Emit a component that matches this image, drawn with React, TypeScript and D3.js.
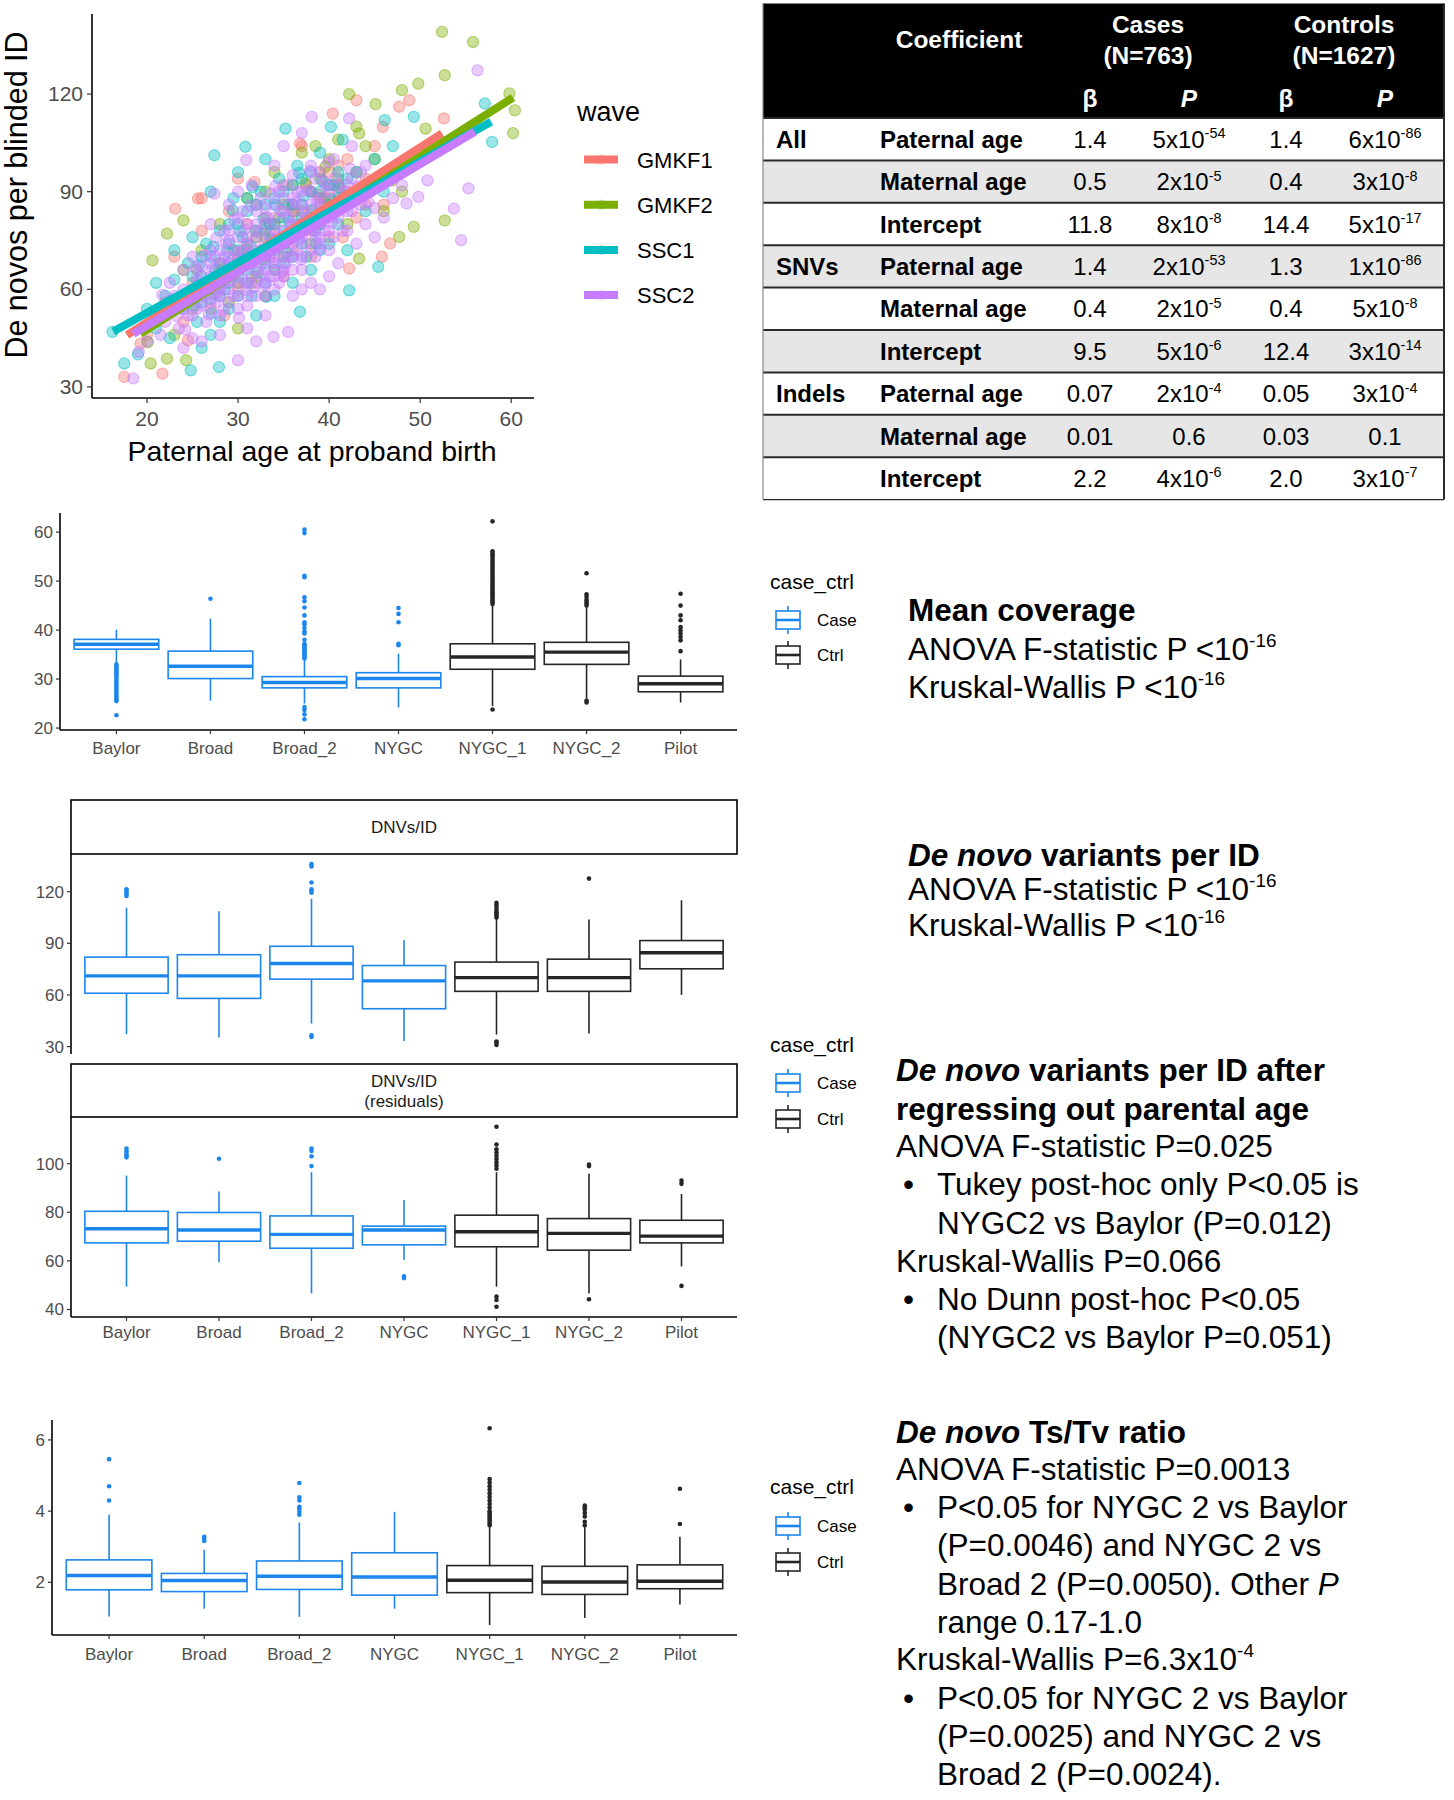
import React from "react";
import * as d3 from "d3";

const FONT = "'Liberation Sans', Arial, Helvetica, sans-serif";

// ---------------- Scatter data ----------------
const waveNames = ["GMKF1", "GMKF2", "SSC1", "SSC2"];
const waveColors = ["#F8766D", "#7CAE00", "#00BFC4", "#C77CFF"];

const gmkf1Points: [number, number][] = [[20,46],[22,56],[23,70],[24,50],[25,62],[26,78],[27,54],[28,68],[29,84],[30,60],[31,74],[32,86],[33,58],[34,80],[35,92],[36,72],[37,104],[38,84],[39,96],[40,76],[41,90],[42,100],[43,82],[44,94],[45,104],[46,86],[30,94],[34,66],[38,70],[26,88],[47.7,116.1],[48.8,118.1],[43,118.1],[40.4,114],[52.6,112.5],[45.9,109.9],[25.6,87.9],[23.1,84.8],[17.5,33.1],[21.7,34.1],[46.7,74.1],[45.8,70],[42.2,66.4],[36.8,104.8],[19.3,43.3],[24.5,44.3],[31.8,93],[27.4,58.7],[29.5,72],[33.5,70],[36.5,80],[39.5,88],[41.5,76],[28.5,52],[25.5,66],[35,64],[32,78],[37.5,92],[40,96],[44,86],[28,62],[30,68],[32,70],[34,74],[36,86],[38,78],[40,88],[42,90],[31,80],[33,82],[35,76],[37,84],[39,80],[29,64],[41,98],[30.4,71.7],[33.6,77.3],[36.2,83.9],[38.8,89.1]];
const gmkf2Points: [number, number][] = [[21,50],[23,46],[24,66],[25,54],[26,72],[27,60],[28,80],[29,56],[30,70],[31,88],[32,64],[33,76],[34,96],[35,70],[36,84],[37,102],[38,74],[39,94],[40,86],[41,106],[42,80],[43,110],[44,92],[45,100],[46,84],[47,96],[48,90],[44,104],[40,100],[36,92],[30,48],[52.4,139.1],[55.8,136],[52.7,125.8],[59.8,120.2],[60.4,115],[60.2,108],[49.8,123.2],[48,121.2],[45.1,116.9],[42.2,120],[43.3,107.9],[52.7,81.2],[49.3,79.2],[47.7,76.1],[50.6,109.4],[46.9,93.5],[43.3,69.4],[39.1,85.3],[20.6,68.9],[22.2,77.1],[20.1,43.8],[20.4,37.2],[24.3,38.2],[22.2,38.7],[24,81.2],[38.5,104],[41,92],[34.5,82],[31.5,62],[28,66],[33,90],[29,64],[31,72],[33,80],[35,86],[37,80],[39,88],[41,94],[43,96],[32,76],[34,74],[36,78],[38,90],[40,92],[42,88],[30,62],[32.6,69.3],[35.7,75.8],[37.4,92.6],[39.6,97.7]];
const ssc1Points: [number, number][] = [[20,54],[21,48],[22,58],[22.5,45],[23,63],[24,54],[24.5,68],[25,60],[25.5,50],[26,64],[26.5,74],[27,57],[27.5,66],[28,78],[28.5,60],[29,68],[29.5,88],[30,64],[30.5,76],[31,84],[31.5,58],[32,70],[32.5,90],[33,62],[33.5,80],[34,72],[34.5,94],[35,68],[35.5,86],[36,76],[36.5,98],[37,82],[37.5,70],[38,90],[38.5,78],[39,102],[39.5,84],[40,74],[40.5,92],[41,80],[41.5,106],[42,88],[43,96],[44,84],[45,100],[46,90],[47,104],[23,72],[26,42],[28,50],[32,52],[34,58],[30,96],[36,62],[38,66],[19,40],[21,62],[27,90],[33,100],[42,72],[35.2,109.4],[30.8,103.8],[27.4,101.2],[49.3,113],[57.1,117.1],[57.9,105.3],[46.1,112],[45.4,66.9],[42.2,59.7],[36.8,53.1],[27.9,36.1],[24.8,35.1],[17.5,37.2],[40.2,109.9],[16.2,46.9],[29,80],[31,70],[33,86],[35,78],[37,94],[39,72],[41,96],[25,76],[29,54],[27,46],[25,64],[26,70],[27,62],[28,68],[29,74],[30,72],[31,66],[32,78],[33,72],[34,80],[35,74],[36,86],[37,78],[38,82],[39,90],[40,84],[41,88],[30,80],[32,86],[34,88],[36,70],[28,58],[26,56],[31,62],[33,68],[35,90],[37,86],[39,80],[29,62],[27,70],[33,78],[35,82],[31,88],[37,74],[38,96],[40,92],[30,58],[34,66],[36,92],[42,94],[24.3,57.2],[25.7,67.4],[26.8,60.5],[27.3,73.1],[28.2,63.7],[28.8,71.6],[29.7,65.8],[30.2,77.9],[31.3,73.4],[32.2,65.1],[32.8,81.6],[33.7,75.2],[34.2,85.8],[35.3,71.4],[35.7,80.6],[36.3,78.3],[37.2,88.7],[38.2,84.5],[39.2,93.4],[40.2,87.6],[41.2,91.2],[29.4,84.3],[31.6,91.4],[27.1,52.6],[25.2,55.1],[33.1,57.7],[36.7,95.8],[43.6,91.2],[38.6,74.1],[30.6,69.4]];
const ssc2Points: [number, number][] = [[22,50],[23,55],[23.5,48],[24,60],[24.5,52],[25,58],[25,45],[25.5,63],[26,55],[26,67],[26.5,50],[27,60],[27,72],[27.5,56],[28,64],[28,52],[28.5,70],[29,60],[29,75],[29.5,66],[30,58],[30,70],[30,82],[30.5,63],[31,74],[31,55],[31.5,68],[32,80],[32,62],[32.5,72],[33,66],[33,85],[33.5,76],[34,60],[34,70],[34.5,90],[35,74],[35,64],[35.5,82],[36,70],[36,95],[36.5,78],[37,66],[37,86],[37.5,74],[38,80],[38,98],[38.5,70],[39,88],[39,76],[39.5,93],[40,82],[40,72],[40.5,100],[41,86],[41.5,78],[42,92],[42,84],[42.5,104],[43,88],[43.5,96],[44,80],[44.5,90],[45,85],[46,94],[47,88],[20,44],[21,52],[21.5,46],[22.5,62],[24,42],[26,44],[28,46],[31,48],[33,52],[29,86],[27,80],[25,70],[31.5,92],[34,98],[36,58],[38,62],[40,64],[43,74],[45,76],[32,44],[30,90],[35,104],[37,108],[39,60],[41,68],[56.3,127.3],[55.3,91],[53.7,84.8],[54.5,75.1],[49.8,88.4],[50.8,93.5],[48.5,86.4],[38.1,113],[42.2,112.5],[18.5,32.6],[19.1,40.8],[30,38.2],[33.9,45.4],[35.5,46.9],[28.4,53.6],[27.4,89.4],[30.9,99.7],[23,58],[24,66],[26,60],[27,64],[28,58],[29,70],[30,66],[31,62],[32,76],[33,70],[34,78],[35,84],[36,80],[37,76],[38,86],[39,82],[40,90],[41,92],[42,78],[31,80],[29,78],[27,68],[25,52],[33,58],[35,70],[37,60],[39,96],[44,98],[46,82],[48,92],[34,64],[36,88],[32,84],[24.5,58],[25.5,54],[26.5,62],[27.5,70],[28.5,62],[29.5,58],[30.5,72],[31.5,64],[32.5,68],[33.5,64],[34.5,74],[35.5,70],[36.5,72],[37.5,82],[38.5,76],[39.5,78],[40.5,86],[41.5,88],[42.5,84],[43.5,86],[26,58],[28,60],[30,62],[32,66],[34,68],[36,74],[38,72],[40,78],[42,88],[44,92],[27,56],[29,64],[31,68],[33,74],[35,78],[37,80],[39,86],[41,82],[30,76],[32,72],[34,82],[36,84],[38,90],[28,72],[26,64],[24,54],[31,58],[33,62],[35,66],[37,70],[39,74],[29,68],[31,76],[33,80],[35,88],[37,90],[30,54],[32,58],[34,86],[36,66],[28.5,78],[30.5,84],[32.5,88],[34.5,62],[36.5,90],[38.5,94],[40.5,76],[42.5,94],[27.5,62],[25.5,60],[23.3,51.7],[24.7,56.4],[25.8,61.2],[26.3,57.9],[27.2,66.3],[27.8,59.1],[28.3,67.6],[28.7,74.2],[29.2,62.8],[29.8,71.5],[30.3,66.9],[30.7,78.3],[31.2,71.2],[31.8,60.7],[32.3,77.4],[32.7,64.6],[33.2,82.1],[33.8,68.3],[34.3,75.6],[34.7,84.2],[35.2,67.8],[35.8,79.4],[36.3,86.7],[36.7,75.2],[37.3,83.5],[37.7,90.6],[38.3,77.9],[38.7,87.3],[39.3,84.1],[39.7,91.8],[40.3,80.6],[40.7,94.3],[41.3,84.7],[41.7,90.2],[42.3,97.1],[43.2,91.6],[44.3,86.8],[29.6,81.3],[31.4,85.7],[33.6,89.4],[35.4,92.1],[27.6,75.8],[26.4,70.4],[25.3,66.7],[28.9,56.2],[30.9,59.8],[32.9,61.4],[34.9,65.3],[36.9,69.1],[38.9,72.5],[24.2,47.6],[26.8,52.3],[30.1,51.2],[22.8,56.9],[21.7,58.3],[37.9,96.4],[39.9,99.1],[34.1,91.7]];
const wavePoints = [gmkf1Points, gmkf2Points, ssc1Points, ssc2Points];

// fitted regression lines
const fitStartAge = [17.8, 19.3, 16.3, 18.5];
const fitStartDnv = [45.9, 46.4, 47.0, 46.3];
const fitEndAge = [52.4, 60.2, 57.8, 56.0];
const fitEndDnv = [107.9, 118.9, 111.5, 108.4];

const scatterXTicks = [20, 30, 40, 50, 60];
const scatterYTicks = [30, 60, 90, 120];

// ---------------- Table data ----------------
const tableGroups = ["All", "", "", "SNVs", "", "", "Indels", "", ""];
const tableCoefs = ["Paternal age", "Maternal age", "Intercept", "Paternal age", "Maternal age", "Intercept", "Paternal age", "Maternal age", "Intercept"];
const caseBeta = ["1.4", "0.5", "11.8", "1.4", "0.4", "9.5", "0.07", "0.01", "2.2"];
const caseP: [string, string][] = [["5x10", "-54"], ["2x10", "-5"], ["8x10", "-8"], ["2x10", "-53"], ["2x10", "-5"], ["5x10", "-6"], ["2x10", "-4"], ["0.6", ""], ["4x10", "-6"]];
const ctrlBeta = ["1.4", "0.4", "14.4", "1.3", "0.4", "12.4", "0.05", "0.03", "2.0"];
const ctrlP: [string, string][] = [["6x10", "-86"], ["3x10", "-8"], ["5x10", "-17"], ["1x10", "-86"], ["5x10", "-8"], ["3x10", "-14"], ["3x10", "-4"], ["0.1", ""], ["3x10", "-7"]];

// ---------------- Boxplot data ----------------
const sites = ["Baylor", "Broad", "Broad_2", "NYGC", "NYGC_1", "NYGC_2", "Pilot"];
const siteGroup = ["Case", "Case", "Case", "Case", "Ctrl", "Ctrl", "Ctrl"];
const groupNames = ["Case", "Ctrl"];
const groupColors = ["#1C86EE", "#262626"];

// Mean coverage
const covQ1 = [36.1, 30.1, 28.2, 28.2, 32.0, 33.0, 27.4];
const covMed = [37.1, 32.6, 29.3, 30.1, 34.5, 35.5, 29.05];
const covQ3 = [38.1, 35.7, 30.5, 31.3, 37.2, 37.5, 30.6];
const covLo = [33.3, 25.6, 25.0, 24.2, 24.5, 26.1, 25.2];
const covHi = [40.1, 42.3, 33.9, 35.2, 44.9, 44.6, 34.0];
const covOut: number[][] = [
  [33.0, 32.6, 32.2, 31.8, 31.4, 31.0, 30.6, 30.2, 29.8, 29.4, 29.0, 28.6, 28.2, 27.8, 27.4, 27.0, 26.6, 26.2, 25.8, 25.5, 22.6],
  [46.4],
  [34.2, 34.5, 34.8, 35.1, 35.4, 35.7, 36.0, 36.3, 36.6, 36.9, 37.2, 38.0, 39.3, 39.7, 40.4, 41.2, 41.6, 43.0, 44.6, 45.9, 46.7, 50.8, 51.1, 59.8, 60.5, 24.3, 23.7, 22.8, 21.8],
  [36.9, 37.2, 41.6, 43.3, 44.5],
  [45.3, 45.7, 46.1, 46.5, 46.9, 47.3, 47.7, 48.1, 48.5, 48.9, 49.3, 49.7, 50.1, 50.5, 50.9, 51.3, 51.7, 52.1, 52.5, 52.9, 53.3, 53.7, 54.1, 54.5, 54.9, 55.3, 55.7, 56.1, 62.2, 23.8],
  [45.0, 45.4, 45.8, 46.2, 46.8, 47.3, 51.6, 25.6, 25.2],
  [35.7, 37.9, 38.6, 39.3, 39.9, 40.6, 42.0, 43.0, 45.0, 47.4],
];
const covTicks = [20, 30, 40, 50, 60];

// DNVs per ID
const dnvQ1 = [61, 58, 69.2, 52, 62.1, 62.1, 75.2];
const dnvMed = [71.1, 71.1, 78.3, 68.2, 70.1, 70.1, 84.5];
const dnvQ3 = [82, 83.4, 88.3, 77.1, 79.1, 80.8, 91.6];
const dnvLo = [37.2, 35.3, 43.4, 33.3, 37.0, 37.6, 60];
const dnvHi = [110.7, 108.7, 115.9, 91.8, 104.5, 103.8, 115];
const dnvOut: number[][] = [
  [117.5, 118.5, 119.5, 120.5, 121.4],
  [],
  [119.4, 120.5, 121.4, 125.3, 134.6, 136, 35.6, 36.6],
  [],
  [105, 106, 107, 108, 109, 110.5, 112, 113.5, 33, 32.3, 31],
  [127.6],
  [],
];
const dnvTicks = [30, 60, 90, 120];

// DNVs per ID residuals
const resQ1 = [67.4, 68.1, 65.2, 66.6, 65.8, 64.4, 67.4];
const resMed = [73.2, 72.7, 70.9, 72.7, 72.0, 71.3, 70.2];
const resQ3 = [80.4, 79.9, 78.5, 74.3, 78.8, 77.4, 76.7];
const resLo = [49.4, 59.4, 46.6, 60.5, 49.4, 46.6, 57.7];
const resHi = [95.1, 88.5, 96.5, 85, 96.5, 95.8, 87.5];
const resOut: number[][] = [
  [102.6, 103.4, 104.1, 105.1, 106.2],
  [102],
  [99, 103, 105.2, 106.2],
  [53.6, 52.9],
  [97.9, 99.3, 100.6, 101.9, 103.3, 104.6, 105.9, 107.9, 115.2, 45.3, 43.9, 41.1],
  [99, 99.6, 44.2],
  [91.7, 93, 49.7],
];
const resTicks = [40, 60, 80, 100];

// Ts/Tv ratio
const tsQ1 = [1.79, 1.74, 1.80, 1.64, 1.71, 1.66, 1.82];
const tsMed = [2.19, 2.05, 2.17, 2.15, 2.06, 2.01, 2.03];
const tsQ3 = [2.63, 2.25, 2.60, 2.83, 2.47, 2.45, 2.49];
const tsLo = [1.04, 1.26, 1.03, 1.26, 0.80, 1.00, 1.38];
const tsHi = [3.90, 2.91, 3.68, 3.98, 3.55, 3.55, 3.28];
const tsOut: number[][] = [
  [4.3, 4.7, 5.46],
  [3.16, 3.22, 3.28],
  [3.9, 3.98, 4.07, 4.12, 4.3, 4.39, 4.79],
  [],
  [3.6, 3.65, 3.7, 3.75, 3.8, 3.85, 3.9, 3.95, 4.0, 4.1, 4.2, 4.3, 4.4, 4.5, 4.6, 4.7, 4.8, 4.9, 6.33],
  [3.6, 3.7, 3.85, 3.95, 4.05, 4.1, 4.16],
  [3.64, 4.63],
];
const tsTicks = [2, 4, 6];

// ---------------- helpers ----------------
type Seg = { t: string; b?: boolean; i?: boolean; sup?: boolean };

function RichLine({ x, y, segs, size, anchor, fill }: { x: number; y: number; segs: Seg[]; size: number; anchor?: string; fill?: string }) {
  return (
    <text x={x} y={y} fontSize={size} fontFamily={FONT} fill={fill || "#000"} textAnchor={anchor || "start"}>
      {segs.map((s, k) =>
        s.sup ? (
          <tspan key={k} dy={-size * 0.4} fontSize={size * 0.6} fontWeight={s.b ? "bold" : undefined}>{s.t}</tspan>
        ) : (
          <tspan key={k} fontWeight={s.b ? "bold" : undefined} fontStyle={s.i ? "italic" : undefined}>{s.t}</tspan>
        )
      )}
    </text>
  );
}

function groupColor(i: number) {
  return groupColors[groupNames.indexOf(siteGroup[i])];
}

function BoxPanel(props: {
  xLeft: number; xRight: number; yTop: number; yBottom: number; domain: [number, number]; ticks: number[];
  q1: number[]; med: number[]; q3: number[]; lo: number[]; hi: number[]; out: number[][];
  xAxis: boolean; labelY?: number;
}) {
  const { xLeft, xRight, yTop, yBottom, domain, ticks, q1, med, q3, lo, hi, out, xAxis, labelY } = props;
  const x = d3.scalePoint<string>().domain(sites).range([xLeft, xRight]).padding(0.6);
  const y = d3.scaleLinear().domain(domain).range([yBottom, yTop]);
  const bw = x.step() * 0.9;
  return (
    <g>
      {sites.map((s, i) => {
        const cx = x(s)!;
        const c = groupColor(i);
        return (
          <g key={s}>
            <line x1={cx} x2={cx} y1={y(hi[i])} y2={y(q3[i])} stroke={c} strokeWidth={1.6} />
            <line x1={cx} x2={cx} y1={y(q1[i])} y2={y(lo[i])} stroke={c} strokeWidth={1.6} />
            <rect x={cx - bw / 2} y={y(q3[i])} width={bw} height={y(q1[i]) - y(q3[i])} fill="#fff" stroke={c} strokeWidth={1.6} />
            <line x1={cx - bw / 2} x2={cx + bw / 2} y1={y(med[i])} y2={y(med[i])} stroke={c} strokeWidth={3.4} />
            {out[i].map((v, k) => (
              <circle key={k} cx={cx} cy={y(v)} r={2.3} fill={c} />
            ))}
          </g>
        );
      })}
      <line x1={xLeft} x2={xLeft} y1={yTop} y2={yBottom} stroke="#000" strokeWidth={1.6} />
      {ticks.map((t) => (
        <g key={t}>
          <line x1={xLeft - 4} x2={xLeft} y1={y(t)} y2={y(t)} stroke="#333" strokeWidth={1.2} />
          <text x={xLeft - 7} y={y(t) + 6} fontSize={17} fontFamily={FONT} fill="#4D4D4D" textAnchor="end">{t}</text>
        </g>
      ))}
      {xAxis && (
        <g>
          <line x1={xLeft} x2={xRight} y1={yBottom} y2={yBottom} stroke="#000" strokeWidth={1.6} />
          {sites.map((s) => (
            <g key={s}>
              <line x1={x(s)} x2={x(s)} y1={yBottom} y2={yBottom + 4} stroke="#333" strokeWidth={1.2} />
              <text x={x(s)} y={(labelY || yBottom + 18) + 6} fontSize={17} fontFamily={FONT} fill="#4D4D4D" textAnchor="middle">{s}</text>
            </g>
          ))}
        </g>
      )}
    </g>
  );
}

function BoxLegend({ titleY, caseY, ctrlY }: { titleY: number; caseY: number; ctrlY: number }) {
  const keyX = 788;
  return (
    <g>
      <text x={770} y={titleY + 7} fontSize={21} fontFamily={FONT} fill="#000">case_ctrl</text>
      {groupNames.map((g, k) => {
        const cy = k === 0 ? caseY : ctrlY;
        const c = groupColors[k];
        return (
          <g key={g}>
            <line x1={keyX} x2={keyX} y1={cy - 14} y2={cy + 14} stroke={c} strokeWidth={1.6} />
            <rect x={keyX - 12} y={cy - 9} width={24} height={18} fill="#fff" stroke={c} strokeWidth={1.6} />
            <line x1={keyX - 12} x2={keyX + 12} y1={cy} y2={cy} stroke={c} strokeWidth={2.6} />
            <text x={817} y={cy + 6} fontSize={17} fontFamily={FONT} fill="#000">{g}</text>
          </g>
        );
      })}
    </g>
  );
}

function Scatter() {
  const x = d3.scaleLinear().domain([13.96, 62.5]).range([92, 534]);
  const y = d3.scaleLinear().domain([26.6, 144.6]).range([398, 14]);
  return (
    <g>
      {wavePoints.map((pts, w) => (
        <g key={w}>
          {pts.map((p, k) => (
            <circle key={k} cx={x(p[0])} cy={y(p[1])} r={5.6} fill={waveColors[w]} fillOpacity={0.4} stroke={waveColors[w]} strokeOpacity={0.5} strokeWidth={1.1} />
          ))}
        </g>
      ))}
      {waveNames.map((n, w) => (
        <line key={n} x1={x(fitStartAge[w])} y1={y(fitStartDnv[w])} x2={x(fitEndAge[w])} y2={y(fitEndDnv[w])} stroke={waveColors[w]} strokeWidth={8} />
      ))}
      <line x1={92} x2={92} y1={14} y2={398} stroke="#000" strokeWidth={1.6} />
      <line x1={92} x2={534} y1={398} y2={398} stroke="#000" strokeWidth={1.6} />
      {scatterYTicks.map((t) => (
        <g key={t}>
          <line x1={87} x2={92} y1={y(t)} y2={y(t)} stroke="#333" strokeWidth={1.2} />
          <text x={83} y={y(t) + 7} fontSize={21} fontFamily={FONT} fill="#4D4D4D" textAnchor="end">{t}</text>
        </g>
      ))}
      {scatterXTicks.map((t) => (
        <g key={t}>
          <line x1={x(t)} x2={x(t)} y1={398} y2={403} stroke="#333" strokeWidth={1.2} />
          <text x={x(t)} y={426} fontSize={21} fontFamily={FONT} fill="#4D4D4D" textAnchor="middle">{t}</text>
        </g>
      ))}
      <text x={312} y={461} fontSize={28.5} fontFamily={FONT} fill="#000" textAnchor="middle">Paternal age at proband birth</text>
      <text transform="translate(27,195) rotate(-90)" fontSize={30.5} fontFamily={FONT} fill="#000" textAnchor="middle">De novos per blinded ID</text>
      <text x={577} y={121} fontSize={27} fontFamily={FONT} fill="#000">wave</text>
      {waveNames.map((n, w) => {
        const cy = 159.5 + w * 45.2;
        return (
          <g key={n}>
            <circle cx={601} cy={cy} r={5.2} fill={waveColors[w]} fillOpacity={0.3} />
            <line x1={584} x2={618} y1={cy} y2={cy} stroke={waveColors[w]} strokeWidth={8} />
            <text x={637} y={cy + 8} fontSize={22} fontFamily={FONT} fill="#000">{n}</text>
          </g>
        );
      })}
    </g>
  );
}

function Table() {
  const L = 763, R = 1444, top = 3.5, headB = 118, rowH = 42.4;
  const colGroup = 776, colCoef = 880, colB1 = 1090, colP1 = 1189, colB2 = 1286, colP2 = 1385;
  const fs = 24;
  return (
    <g fontFamily={FONT}>
      <rect x={L} y={top} width={R - L} height={headB - top} fill="#000" />
      {tableCoefs.map((_, i) => (
        <rect key={i} x={L} y={headB + i * rowH} width={R - L} height={rowH} fill={i % 2 === 1 ? "#E6E6E6" : "#fff"} />
      ))}
      {tableCoefs.map((_, i) => (
        <line key={i} x1={L} x2={R} y1={headB + (i + 1) * rowH} y2={headB + (i + 1) * rowH} stroke="#2a2a2a" strokeWidth={i === tableCoefs.length - 1 ? 1.2 : 2} />
      ))}
      <line x1={L} x2={R} y1={headB} y2={headB} stroke="#2a2a2a" strokeWidth={2} />
      <line x1={R} x2={R} y1={top} y2={headB + 9 * rowH} stroke="#2a2a2a" strokeWidth={2} />
      <line x1={L} x2={L} y1={top} y2={headB + 9 * rowH} stroke="#888" strokeWidth={1.2} />
      <text x={959} y={48} fontSize={24.5} fontWeight="bold" fill="#fff" textAnchor="middle">Coefficient</text>
      <text x={1148} y={33} fontSize={24.5} fontWeight="bold" fill="#fff" textAnchor="middle">Cases</text>
      <text x={1148} y={64} fontSize={24.5} fontWeight="bold" fill="#fff" textAnchor="middle">(N=763)</text>
      <text x={1344} y={33} fontSize={24.5} fontWeight="bold" fill="#fff" textAnchor="middle">Controls</text>
      <text x={1344} y={64} fontSize={24.5} fontWeight="bold" fill="#fff" textAnchor="middle">(N=1627)</text>
      <text x={colB1} y={107} fontSize={24.5} fontWeight="bold" fill="#fff" textAnchor="middle">β</text>
      <text x={colP1} y={107} fontSize={24.5} fontWeight="bold" fontStyle="italic" fill="#fff" textAnchor="middle">P</text>
      <text x={colB2} y={107} fontSize={24.5} fontWeight="bold" fill="#fff" textAnchor="middle">β</text>
      <text x={colP2} y={107} fontSize={24.5} fontWeight="bold" fontStyle="italic" fill="#fff" textAnchor="middle">P</text>
      {tableCoefs.map((c, i) => {
        const cy = headB + (i + 0.5) * rowH + 8.5;
        return (
          <g key={i}>
            {tableGroups[i] && <text x={colGroup} y={cy} fontSize={fs} fontWeight="bold" fill="#000">{tableGroups[i]}</text>}
            <text x={colCoef} y={cy} fontSize={fs} fontWeight="bold" fill="#000">{c}</text>
            <text x={colB1} y={cy} fontSize={fs} fill="#000" textAnchor="middle">{caseBeta[i]}</text>
            <RichLine x={colP1} y={cy} size={fs} anchor="middle" segs={caseP[i][1] ? [{ t: caseP[i][0] }, { t: caseP[i][1], sup: true }] : [{ t: caseP[i][0] }]} />
            <text x={colB2} y={cy} fontSize={fs} fill="#000" textAnchor="middle">{ctrlBeta[i]}</text>
            <RichLine x={colP2} y={cy} size={fs} anchor="middle" segs={ctrlP[i][1] ? [{ t: ctrlP[i][0] }, { t: ctrlP[i][1], sup: true }] : [{ t: ctrlP[i][0] }]} />
          </g>
        );
      })}
    </g>
  );
}

const TS = 31.5;
function Annotations() {
  const bx = 903, tx = 937;
  return (
    <g>
      <RichLine x={908} y={621} size={TS} segs={[{ t: "Mean coverage", b: true }]} />
      <RichLine x={908} y={660} size={TS} segs={[{ t: "ANOVA F-statistic P <10" }, { t: "-16", sup: true }]} />
      <RichLine x={908} y={698} size={TS} segs={[{ t: "Kruskal-Wallis P <10" }, { t: "-16", sup: true }]} />

      <RichLine x={908} y={866} size={TS} segs={[{ t: "De novo", b: true, i: true }, { t: " variants per ID", b: true }]} />
      <RichLine x={908} y={900} size={TS} segs={[{ t: "ANOVA F-statistic P <10" }, { t: "-16", sup: true }]} />
      <RichLine x={908} y={936} size={TS} segs={[{ t: "Kruskal-Wallis P <10" }, { t: "-16", sup: true }]} />

      <RichLine x={896} y={1081} size={TS} segs={[{ t: "De novo", b: true, i: true }, { t: " variants per ID after", b: true }]} />
      <RichLine x={896} y={1120} size={TS} segs={[{ t: "regressing out parental age", b: true }]} />
      <RichLine x={896} y={1157} size={TS} segs={[{ t: "ANOVA F-statistic P=0.025" }]} />
      <RichLine x={bx} y={1195} size={TS} segs={[{ t: "•" }]} />
      <RichLine x={tx} y={1195} size={TS} segs={[{ t: "Tukey post-hoc only P<0.05 is" }]} />
      <RichLine x={tx} y={1234} size={TS} segs={[{ t: "NYGC2 vs Baylor (P=0.012)" }]} />
      <RichLine x={896} y={1272} size={TS} segs={[{ t: "Kruskal-Wallis P=0.066" }]} />
      <RichLine x={bx} y={1310} size={TS} segs={[{ t: "•" }]} />
      <RichLine x={tx} y={1310} size={TS} segs={[{ t: "No Dunn post-hoc P<0.05" }]} />
      <RichLine x={tx} y={1348} size={TS} segs={[{ t: "(NYGC2 vs Baylor P=0.051)" }]} />

      <RichLine x={896} y={1443} size={TS} segs={[{ t: "De novo", b: true, i: true }, { t: " Ts/Tv ratio", b: true }]} />
      <RichLine x={896} y={1480} size={TS} segs={[{ t: "ANOVA F-statistic P=0.0013" }]} />
      <RichLine x={bx} y={1518} size={TS} segs={[{ t: "•" }]} />
      <RichLine x={tx} y={1518} size={TS} segs={[{ t: "P<0.05 for NYGC 2 vs Baylor" }]} />
      <RichLine x={tx} y={1556} size={TS} segs={[{ t: "(P=0.0046) and NYGC 2 vs" }]} />
      <RichLine x={tx} y={1595} size={TS} segs={[{ t: "Broad 2 (P=0.0050). Other " }, { t: "P", i: true }]} />
      <RichLine x={tx} y={1633} size={TS} segs={[{ t: "range 0.17-1.0" }]} />
      <RichLine x={896} y={1670} size={TS} segs={[{ t: "Kruskal-Wallis P=6.3x10" }, { t: "-4", sup: true }]} />
      <RichLine x={bx} y={1709} size={TS} segs={[{ t: "•" }]} />
      <RichLine x={tx} y={1709} size={TS} segs={[{ t: "P<0.05 for NYGC 2 vs Baylor" }]} />
      <RichLine x={tx} y={1747} size={TS} segs={[{ t: "(P=0.0025) and NYGC 2 vs" }]} />
      <RichLine x={tx} y={1785} size={TS} segs={[{ t: "Broad 2 (P=0.0024)." }]} />
    </g>
  );
}

function Strip({ x0, x1, y0, y1, lines }: { x0: number; x1: number; y0: number; y1: number; lines: string[] }) {
  const cx = (x0 + x1) / 2;
  const cy = (y0 + y1) / 2;
  return (
    <g>
      <rect x={x0} y={y0} width={x1 - x0} height={y1 - y0} fill="#fff" stroke="#000" strokeWidth={1.6} />
      {lines.map((l, k) => (
        <text key={k} x={cx} y={cy + 6 + (k - (lines.length - 1) / 2) * 20} fontSize={17} fontFamily={FONT} fill="#1A1A1A" textAnchor="middle">{l}</text>
      ))}
    </g>
  );
}

export default function App() {
  return (
    <svg width={1454} height={1800} viewBox="0 0 1454 1800" style={{ position: "absolute", left: 0, top: 0, display: "block", background: "#fff" }}>
      <rect x={0} y={0} width={1454} height={1800} fill="#fff" />
      <Scatter />
      <Table />

      {/* Mean coverage */}
      <BoxPanel xLeft={60} xRight={737} yTop={513} yBottom={730} domain={[19.6, 63.9]} ticks={covTicks}
        q1={covQ1} med={covMed} q3={covQ3} lo={covLo} hi={covHi} out={covOut} xAxis={true} labelY={748} />
      <BoxLegend titleY={582} caseY={620} ctrlY={655} />

      {/* DNVs/ID facets */}
      <Strip x0={71} x1={737} y0={800} y1={854} lines={["DNVs/ID"]} />
      <BoxPanel xLeft={71} xRight={737} yTop={854} yBottom={1054} domain={[25.7, 141.9]} ticks={dnvTicks}
        q1={dnvQ1} med={dnvMed} q3={dnvQ3} lo={dnvLo} hi={dnvHi} out={dnvOut} xAxis={false} />
      <Strip x0={71} x1={737} y0={1064} y1={1117} lines={["DNVs/ID", "(residuals)"]} />
      <BoxPanel xLeft={71} xRight={737} yTop={1117} yBottom={1317} domain={[36.9, 119.2]} ticks={resTicks}
        q1={resQ1} med={resMed} q3={resQ3} lo={resLo} hi={resHi} out={resOut} xAxis={true} labelY={1332} />
      <BoxLegend titleY={1045} caseY={1083} ctrlY={1119} />

      {/* Ts/Tv */}
      <BoxPanel xLeft={52} xRight={737} yTop={1420} yBottom={1635} domain={[0.52, 6.56]} ticks={tsTicks}
        q1={tsQ1} med={tsMed} q3={tsQ3} lo={tsLo} hi={tsHi} out={tsOut} xAxis={true} labelY={1654} />
      <BoxLegend titleY={1487} caseY={1526} ctrlY={1562} />

      <Annotations />
    </svg>
  );
}
